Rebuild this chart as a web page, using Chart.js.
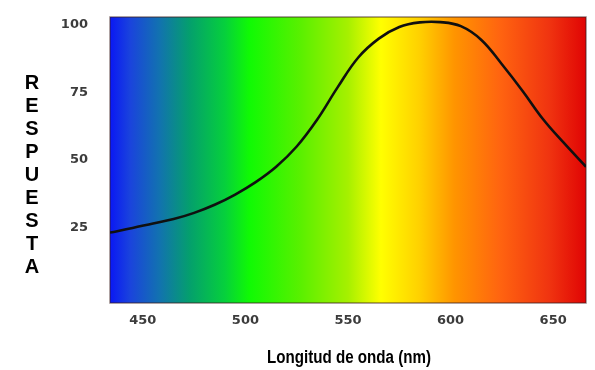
<!DOCTYPE html>
<html>
<head>
<meta charset="utf-8">
<script src="https://cdn.jsdelivr.net/npm/chart.js@4"></script>
<style>
  html, body { margin: 0; padding: 0; background: #fff; }
  #wrap { width: 595px; height: 370px; position: relative; }
</style>
</head>
<body>
<div id="wrap"><canvas id="chart"></canvas></div>
<script>
  // ── Data ───────────────────────────────────────────────
  const WAVELENGTHS = [434, 445, 455, 465, 475, 485, 495, 505, 515, 525, 535, 545,
                       555, 565, 575, 585, 595, 605, 615, 625, 635, 645, 655, 666];
  const RESPONSE    = [23.1, 24.8, 26.5, 28.1, 30.4, 33.4, 37.2, 41.8, 47.5, 55.0, 65.0, 77.0,
                       88.0, 95.0, 99.3, 101.0, 101.1, 99.6, 94.5, 85.5, 75.7, 65.2, 56.5, 47.5];
  const X_TICKS = [450, 500, 550, 600, 650];
  const Y_TICKS = [25, 50, 75, 100];
  const Y_TITLE = 'RESPUESTA';
  const X_TITLE = 'Longitud de onda (nm)';

  // spectrum colours, keyed by wavelength
  const SPECTRUM = [
    [434, '#0a18f4'], [444, '#1a44dc'], [458, '#1272b0'], [473, '#04a06c'],
    [490, '#06d03c'], [502, '#10fa04'], [527, '#5af000'], [550, '#a6f000'],
    [566, '#ffff00'], [585, '#ffd000'], [602, '#ff9400'], [624, '#ff6410'],
    [648, '#f03410'], [666, '#e00404']
  ];

  // ── Plugins ────────────────────────────────────────────
  const spectrumBg = {
    id: 'spectrumBg',
    beforeDatasetsDraw: function (chart) {
      var ctx = chart.ctx, a = chart.chartArea, xs = chart.scales.x;
      var g = ctx.createLinearGradient(a.left, 0, a.right, 0);
      SPECTRUM.forEach(function (s) {
        var p = (xs.getPixelForValue(s[0]) - a.left) / (a.right - a.left);
        g.addColorStop(Math.min(1, Math.max(0, p)), s[1]);
      });
      ctx.save();
      ctx.fillStyle = g;
      ctx.fillRect(a.left, a.top, a.right - a.left, a.bottom - a.top);
      ctx.strokeStyle = 'rgba(60,30,30,0.55)';
      ctx.lineWidth = 1.5;
      ctx.strokeRect(a.left, a.top, a.right - a.left, a.bottom - a.top);
      ctx.restore();
    }
  };

  const axisTitles = {
    id: 'axisTitles',
    afterDraw: function (chart) {
      var ctx = chart.ctx;
      ctx.save();
      ctx.fillStyle = '#000';
      ctx.textAlign = 'center';
      ctx.textBaseline = 'middle';

      // stacked vertical letters
      ctx.font = 'bold 20px "Liberation Sans", Arial, sans-serif';
      for (var i = 0; i < Y_TITLE.length; i++) {
        ctx.fillText(Y_TITLE[i], 32, 83 + i * 23);
      }

      // condensed x title
      ctx.font = 'bold 18px "Liberation Sans", Arial, sans-serif';
      var w = ctx.measureText(X_TITLE).width;
      ctx.translate(349, 358);
      ctx.scale(164 / w, 1);
      ctx.fillText(X_TITLE, 0, 0);
      ctx.restore();
    }
  };

  // ── Chart ──────────────────────────────────────────────
  const points = WAVELENGTHS.map(function (w, i) { return { x: w, y: RESPONSE[i] }; });
  const tickFont = { family: '"DejaVu Sans", Verdana, sans-serif', size: 13, weight: 'bold' };

  new Chart(document.getElementById('chart'), {
    type: 'line',
    data: {
      datasets: [{
        data: points,
        borderColor: '#101010',
        borderWidth: 2.6,
        pointRadius: 0,
        fill: false,
        tension: 0.4
      }]
    },
    options: {
      responsive: true,
      maintainAspectRatio: false,
      animation: false,
      layout: { padding: { top: 17, right: 9, left: 0, bottom: 0 } },
      plugins: { legend: { display: false }, tooltip: { enabled: false } },
      scales: {
        x: {
          type: 'linear',
          min: 434,
          max: 666,
          grid: { display: false, drawTicks: false },
          border: { display: false },
          afterBuildTicks: function (s) { s.ticks = X_TICKS.map(function (v) { return { value: v }; }); },
          afterFit: function (s) { s.height = 67; s.paddingLeft = 0; s.paddingRight = 0; },
          ticks: { color: '#3c3c3c', font: tickFont, padding: 10, maxRotation: 0 }
        },
        y: {
          min: -3,
          max: 103,
          grid: { display: false, drawTicks: false },
          border: { display: false },
          afterBuildTicks: function (s) { s.ticks = Y_TICKS.map(function (v) { return { value: v }; }); },
          afterFit: function (s) { s.width = 110; s.paddingTop = 0; s.paddingBottom = 0; },
          ticks: { color: '#3c3c3c', font: tickFont, padding: 22 }
        }
      }
    },
    plugins: [spectrumBg, axisTitles]
  });
</script>
</body>
</html>
